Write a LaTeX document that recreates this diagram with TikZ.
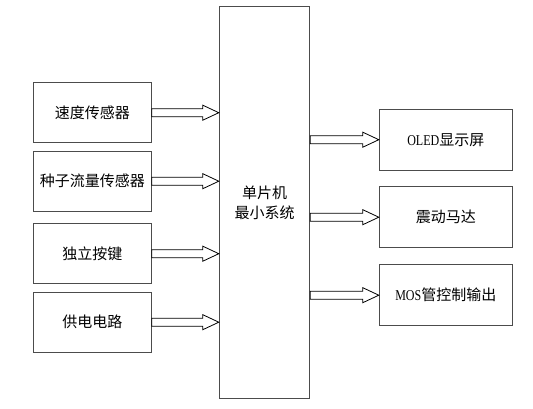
\documentclass[tikz,border=0pt]{standalone}
\usepackage{fontspec}
\usepackage{graphicx}
\setmainfont{Noto Sans CJK SC}
\newfontfamily\latinnarrow{Liberation Serif}
\usetikzlibrary{calc}
\newcommand\narrowlatin[1]{{\latinnarrow\scalebox{0.8}[1]{#1}}}
\newcommand\hollowarrow[2]{%
  \draw[blk] let \p1=(#1), \p2=(#2) in
    (\x1,\y1+4pt) -- (\x2-16pt,\y1+4pt) -- (\x2-16pt,\y1+7.5pt) -- (\x2,\y1)
    -- (\x2-16pt,\y1-7.5pt) -- (\x2-16pt,\y1-4pt) -- (\x1,\y1-4pt) -- cycle;}
\begin{document}
\begin{tikzpicture}[x=1pt,y=-1pt,
  box/.style={draw=black!70,line width=1pt,rectangle,inner sep=0pt,
    font=\fontsize{15}{20}\selectfont,align=center},
  lbox/.style={box,minimum width=118pt,minimum height=60pt},
  rbox/.style={box,minimum width=133pt,minimum height=61pt},
  blk/.style={draw=black,line width=0.8pt,fill=white}]
\useasboundingbox (0,0) rectangle (533,408);
\node[box,minimum width=90.4pt,minimum height=391.6pt] (M) at (264.5,202.5) {单片机\\最小系统};
\node[lbox] (L1) at (92.3,112.7) {速度传感器};
\node[lbox] (L2) at (92.3,181.2) {种子流量传感器};
\node[lbox] (L3) at (92.3,253.7) {独立按键};
\node[lbox] (L4) at (92.3,322.2) {供电电路};
\node[rbox] (R1) at (445.8,139.7) {\narrowlatin{OLED}显示屏};
\node[rbox] (R2) at (445.8,217.2) {震动马达};
\node[rbox] (R3) at (445.8,295.2) {\narrowlatin{MOS}管控制输出};
\foreach \bx in {L1,L2,L3,L4}{\hollowarrow{\bx.east}{\bx.east -| M.west}}
\foreach \bx in {R1,R2,R3}{\hollowarrow{M.east |- \bx.west}{\bx.west}}
\end{tikzpicture}
\end{document}
